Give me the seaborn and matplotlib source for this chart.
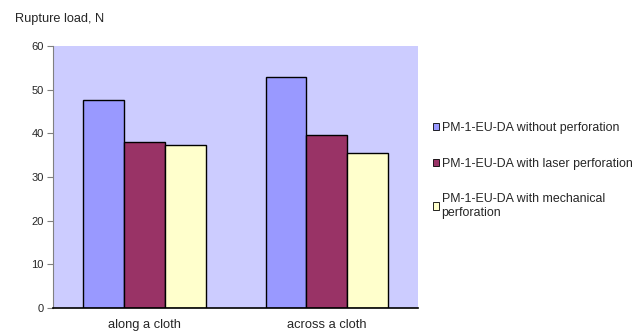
import numpy as np
import pandas as pd
import matplotlib.pyplot as plt
import seaborn as sns

sns.set_style("white")
plt.rcParams['font.family'] = ['Liberation Sans', 'DejaVu Sans']

# Data
directions = ["along a cloth", "across a cloth"]
series = ["PM-1-EU-DA without perforation",
          "PM-1-EU-DA with laser perforation",
          "PM-1-EU-DA with mechanical\nperforation"]
without_perf = [47.7, 52.9]
laser_perf = [38.0, 39.5]
mech_perf = [37.3, 35.4]
colors = ["#9999FF", "#993366", "#FFFFCC"]

df = pd.DataFrame({
    "direction": directions * 3,
    "series": np.repeat(series, 2),
    "load": without_perf + laser_perf + mech_perf,
})

fig = plt.figure(figsize=(6.42, 3.33), dpi=100)
ax = fig.add_axes([0.083, 0.075, 0.568, 0.787])
ax.set_facecolor("#CCCCFF")

sns.barplot(data=df, x="direction", y="load", hue="series", palette=colors,
            saturation=1, width=0.67, gap=0, edgecolor="black", linewidth=1.0,
            errorbar=None, ax=ax, legend=False)

ax.set_ylim(0, 60)
ax.set_yticks(range(0, 61, 10))
ax.set_xlim(-0.5, 1.5)
ax.set_xlabel("")
ax.set_ylabel("")
ax.tick_params(axis="y", labelsize=8, length=4, direction="out", color="#808080", left=True, pad=3)
ax.tick_params(axis="x", labelsize=9.3, length=0, pad=8)
for s in ["top", "right"]:
    ax.spines[s].set_visible(False)
ax.spines["left"].set_color("#808080")
ax.spines["bottom"].set_color("black")
ax.spines["bottom"].set_linewidth(1.2)

fig.text(0.023, 0.943, "Rupture load, N", fontsize=9.2, va="center", ha="left")

handles = [plt.Rectangle((0, 0), 1, 1, facecolor=c, edgecolor="black", linewidth=0.6) for c in colors]
fig.legend(handles, series, loc="upper left", bbox_to_anchor=(0.657, 0.667),
           frameon=False, fontsize=8.9, handlelength=0.5, handleheight=0.5,
           handletextpad=0.2, labelspacing=1.9)

fig.savefig("out.png", dpi=100)
